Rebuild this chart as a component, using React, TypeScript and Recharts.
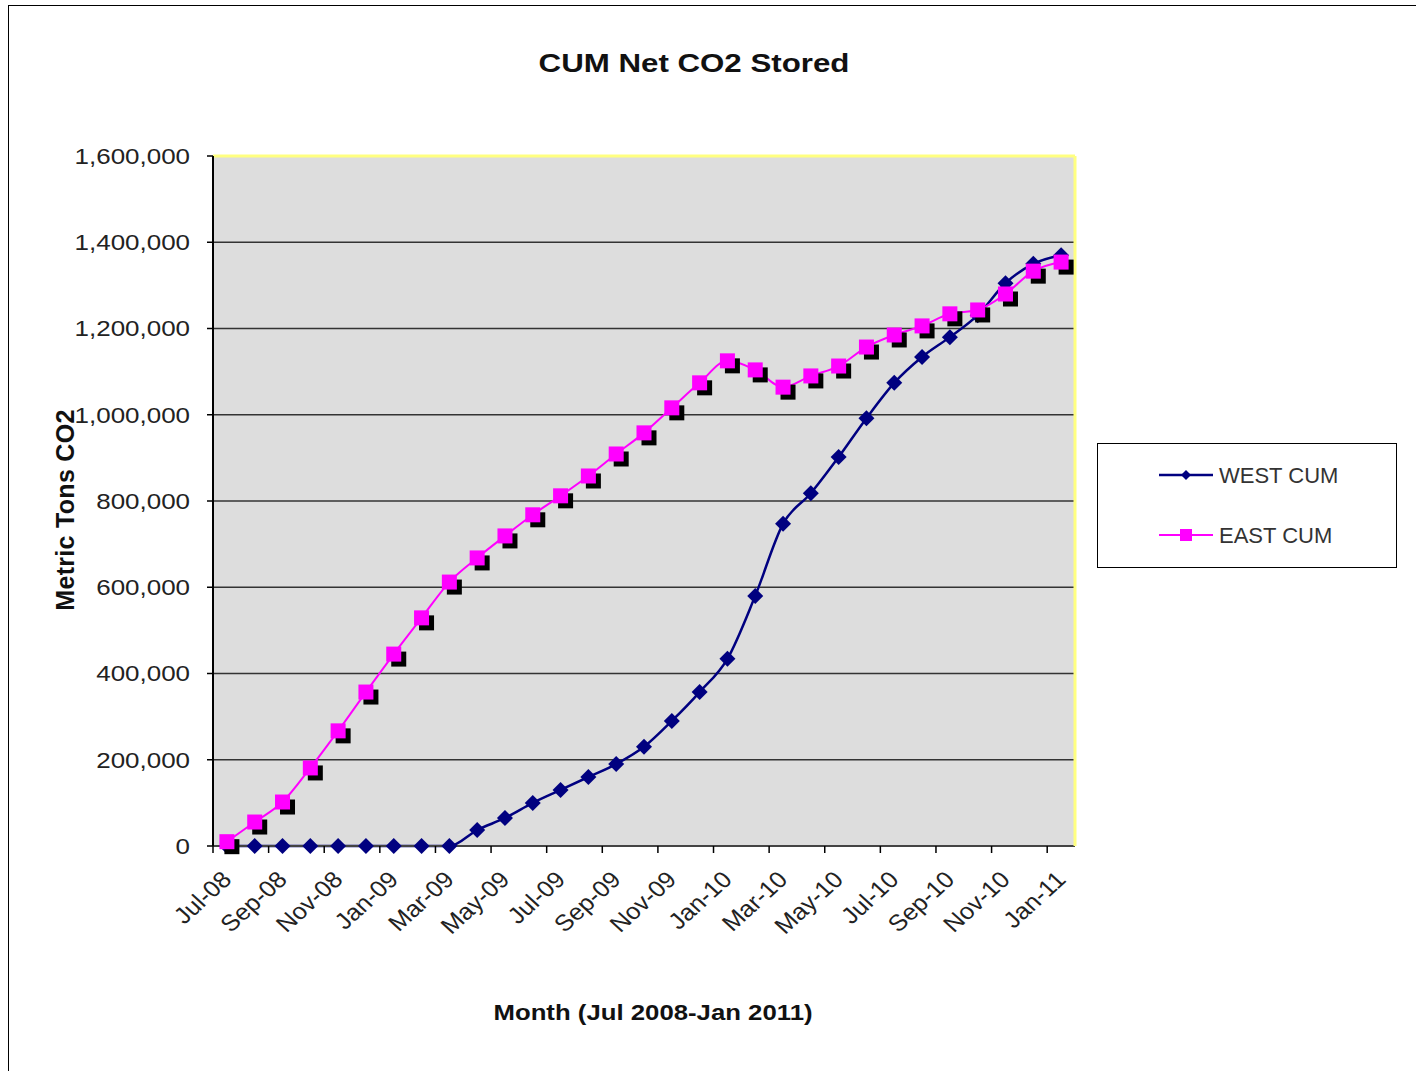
import React from 'react'
import {
  CartesianGrid,
  Legend,
  Line,
  LineChart,
  ReferenceLine,
  XAxis,
  YAxis,
} from 'recharts'

const months = [
  'Jul-08', 'Aug-08', 'Sep-08', 'Oct-08', 'Nov-08', 'Dec-08',
  'Jan-09', 'Feb-09', 'Mar-09', 'Apr-09', 'May-09', 'Jun-09',
  'Jul-09', 'Aug-09', 'Sep-09', 'Oct-09', 'Nov-09', 'Dec-09',
  'Jan-10', 'Feb-10', 'Mar-10', 'Apr-10', 'May-10', 'Jun-10',
  'Jul-10', 'Aug-10', 'Sep-10', 'Oct-10', 'Nov-10', 'Dec-10',
  'Jan-11',
]

const westCum = [
  0, 0, 0, 0, 0, 0, 0, 0, 0, 37000, 65000, 100000, 130000, 160000, 190000,
  230000, 290000, 357000, 434000, 580000, 747000, 818000, 902000, 992000,
  1074000, 1134000, 1180000, 1231000, 1305000, 1350000, 1370000,
]

const eastCum = [
  10000, 55600, 102000, 181000, 267000, 357000, 445000, 529000, 612000,
  668000, 719000, 768000, 812000, 858000, 909000, 958000, 1016000, 1074000,
  1125000, 1104000, 1064000, 1090000, 1113000, 1157000, 1185000, 1206000,
  1234000, 1243000, 1280000, 1333000, 1354000,
]

const yTicks = [0, 200000, 400000, 600000, 800000, 1000000, 1200000, 1400000, 1600000]

const data = months.map((m, i) => ({ month: m, west: westCum[i], east: eastCum[i] }))

const FONT = '"Liberation Sans", Arial, sans-serif'
const NAVY = '#000080'
const PINK = '#FF00FF'
const YELLOW = '#FFFF80'
const STEP = 862 / 31

function YTick(props: any) {
  const { x, y, payload } = props
  return (
    <text
      transform={`translate(${x},${y}) scale(1.18,1)`}
      textAnchor="end"
      dominantBaseline="central"
      fontFamily={FONT}
      fontSize={22}
      fill="#222"
    >
      {payload.value.toLocaleString('en-US')}
    </text>
  )
}

function XTick(props: any) {
  const { x, y, payload } = props
  const bx = x - STEP / 2
  return (
    <g>
      <line x1={bx} y1={y} x2={bx} y2={y + 7} stroke="#000" strokeWidth={1.5} />
      <text
        transform={`translate(${x + 6},${y + 35}) scale(1.1,1) rotate(-45)`}
        textAnchor="end"
        fontFamily={FONT}
        fontSize={23}
        fill="#222"
      >
        {payload.value}
      </text>
    </g>
  )
}

function EastDot(props: any) {
  const { cx, cy, index } = props
  if (cx == null || cy == null) return <g key={index} />
  return (
    <g key={index}>
      <rect x={cx - 7.5 + 5} y={cy - 7.5 + 5} width={15} height={15} fill="#000" />
      <rect x={cx - 7.5} y={cy - 7.5} width={15} height={15} fill={PINK} />
    </g>
  )
}

function WestDot(props: any) {
  const { cx, cy, index } = props
  if (cx == null || cy == null) return <g key={index} />
  return (
    <polygon
      key={index}
      points={`${cx},${cy - 8} ${cx + 8},${cy} ${cx},${cy + 8} ${cx - 8},${cy}`}
      fill={NAVY}
    />
  )
}

function LegendBox() {
  return (
    <svg width={298} height={123} style={{ display: 'block' }}>
      <line x1={61} y1={31} x2={115} y2={31} stroke={NAVY} strokeWidth={2.5} />
      <polygon points="88,26 93,31 88,36 83,31" fill={NAVY} />
      <text x={121} y={31} dominantBaseline="central" fontFamily={FONT} fontSize={22} fill="#333">
        WEST CUM
      </text>
      <line x1={61} y1={91} x2={115} y2={91} stroke={PINK} strokeWidth={2} />
      <rect x={82} y={85} width={12} height={12} fill={PINK} />
      <text x={121} y={91} dominantBaseline="central" fontFamily={FONT} fontSize={22} fill="#333">
        EAST CUM
      </text>
    </svg>
  )
}

export default function App() {
  return (
    <div
      style={{
        position: 'absolute',
        left: 8,
        top: 5,
        width: 1430,
        height: 1090,
        border: '1px solid #000',
        boxSizing: 'border-box',
        background: '#fff',
      }}
    >
      <div
        style={{
          position: 'absolute',
          left: 0,
          top: 42,
          width: 1370,
          textAlign: 'center',
          fontFamily: FONT,
          fontWeight: 'bold',
          fontSize: 25,
          lineHeight: '30px',
          color: '#111',
          transform: 'scaleX(1.25)',
        }}
      >
        CUM Net CO2 Stored
      </div>
      <LineChart
        width={1400}
        height={1060}
        data={data}
        margin={{ top: 150, right: 332, bottom: 0, left: 0 }}
      >
        <CartesianGrid vertical={false} stroke="#333" strokeWidth={1.5} fill="#DDDDDD" />
        <XAxis
          dataKey="month"
          interval={1}
          padding={{ left: STEP / 2, right: STEP / 2 }}
          height={220}
          tickLine={false}
          tickSize={0}
          tickMargin={0}
          tick={<XTick />}
          axisLine={{ stroke: '#444', strokeWidth: 2 }}
          label={{
            content: (p: any) => {
              const vb = p.viewBox
              return (
                <text
                  transform={`translate(${vb.x + vb.width / 2 + 9},${vb.y + 166}) scale(1.12,1)`}
                  textAnchor="middle"
                  dominantBaseline="central"
                  fontFamily={FONT}
                  fontWeight="bold"
                  fontSize={23}
                  fill="#111"
                >
                  Month (Jul 2008-Jan 2011)
                </text>
              )
            },
          }}
        />
        <YAxis
          domain={[0, 1600000]}
          ticks={yTicks}
          width={204}
          tickSize={6}
          tickMargin={17}
          tickLine={{ stroke: '#000', strokeWidth: 1.5 }}
          axisLine={{ stroke: '#000', strokeWidth: 2 }}
          tick={<YTick />}
          label={{
            content: (p: any) => {
              const vb = p.viewBox
              return (
                <text
                  transform={`translate(56,${vb.y + vb.height / 2 + 9}) rotate(-90)`}
                  textAnchor="middle"
                  dominantBaseline="central"
                  fontFamily={FONT}
                  fontWeight="bold"
                  fontSize={25}
                  letterSpacing={0.3}
                  fill="#111"
                >
                  Metric Tons CO2
                </text>
              )
            },
          }}
        />
        <YAxis
          yAxisId="right"
          orientation="right"
          width={2}
          domain={[0, 1600000]}
          tick={false}
          tickLine={false}
          axisLine={{ stroke: YELLOW, strokeWidth: 3 }}
        />
        <ReferenceLine y={1600000} stroke={YELLOW} strokeWidth={3} />
        <Line
          type="monotone"
          dataKey="west"
          name="WEST CUM"
          stroke={NAVY}
          strokeWidth={2.5}
          dot={<WestDot />}
          activeDot={false}
          isAnimationActive={false}
        />
        <Line
          type="monotone"
          dataKey="east"
          name="EAST CUM"
          stroke={PINK}
          strokeWidth={2}
          dot={<EastDot />}
          activeDot={false}
          isAnimationActive={false}
        />
        <Legend
          layout="horizontal"
          verticalAlign="middle"
          align="center"
          content={<LegendBox />}
          wrapperStyle={{
            left: 1088,
            top: 437,
            width: 300,
            height: 125,
            border: '1px solid #000',
            boxSizing: 'border-box',
            background: '#fff',
          }}
        />
      </LineChart>
    </div>
  )
}
